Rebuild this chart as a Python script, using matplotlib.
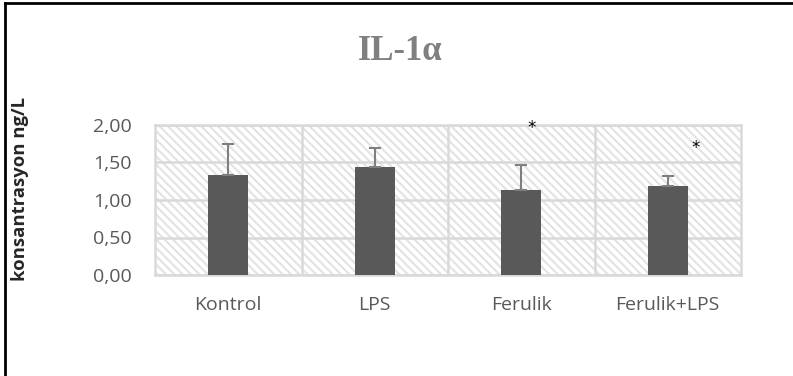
import numpy as np
import matplotlib.pyplot as plt
from matplotlib.lines import Line2D
from matplotlib.patches import Rectangle

# data
groups = ['Kontrol', 'LPS', 'Ferulik', 'Ferulik+LPS']
means = [1.33, 1.445, 1.135, 1.185]
sd = [0.415, 0.245, 0.33, 0.14]
star_x = [2.07, 3.19]
star_y = [1.96, 1.70]
yticks = [0.0, 0.5, 1.0, 1.5, 2.0]
ytick_labels = ['0,00', '0,50', '1,00', '1,50', '2,00']

plt.rcParams['hatch.linewidth'] = 1.5

W, H = 793, 376
fig = plt.figure(figsize=(W/100, H/100), dpi=100)
ax = fig.add_axes([155/W, (H-275)/H, (741-155)/W, 150/H])

x = np.arange(len(groups))
ax.set_xlim(-0.5, 3.5)
ax.set_ylim(0, 2.0)

# hatched background
bg = Rectangle((0, 0), 1, 1, transform=ax.transAxes, facecolor='white',
               edgecolor='#e3e3e3', hatch='\\\\\\\\', lw=0, zorder=0)
ax.add_patch(bg)

ax.bar(x, means, width=0.27, color='#595959', zorder=3,
       yerr=[np.zeros(len(sd)), sd], ecolor='#7f7f7f',
       error_kw=dict(elinewidth=1.5, capsize=4, capthick=1.5))

for sx, sy in zip(star_x, star_y):
    ax.text(sx, sy, '*', ha='center', va='center', fontsize=12, color='black', zorder=4)

ax.set_yticks(yticks)
ax.set_yticklabels(ytick_labels)
ax.set_xticks(x)
ax.set_xticklabels(groups)
ax.set_xticks([0.5, 1.5, 2.5], minor=True)
ax.grid(True, axis='y', which='major', color='#d9d9d9', lw=1.8, zorder=1)
ax.grid(True, axis='x', which='minor', color='#d9d9d9', lw=1.8, zorder=1)
ax.set_axisbelow(True)
ax.tick_params(axis='both', which='both', length=0)
ax.tick_params(axis='y', pad=17, labelsize=14, labelcolor='#595959')
ax.tick_params(axis='x', pad=15, labelsize=14, labelcolor='#595959')
for lab in ax.get_xticklabels() + ax.get_yticklabels():
    lab.set_family('Open Sans')
for s in ax.spines.values():
    s.set_color('#d9d9d9')
    s.set_linewidth(1.8)

fig.text(400/W, 1-52/H, 'IL-1α', ha='center', va='center', fontsize=25,
         fontweight='bold', color='#808080', family='Liberation Serif')
fig.text(20/W, 1-189/H, 'konsantrasyon ng/L', rotation=90, ha='center', va='center',
         fontsize=13.3, fontweight='bold', color='#262626', family='Open Sans')

# outer frame (top and left edges visible)
fig.add_artist(Line2D([5/W, 5/W], [0, 1-3/H], color='black', lw=2, transform=fig.transFigure))
fig.add_artist(Line2D([5/W, 1], [1-3/H, 1-3/H], color='black', lw=2, transform=fig.transFigure))

fig.savefig('out.png', dpi=100)
